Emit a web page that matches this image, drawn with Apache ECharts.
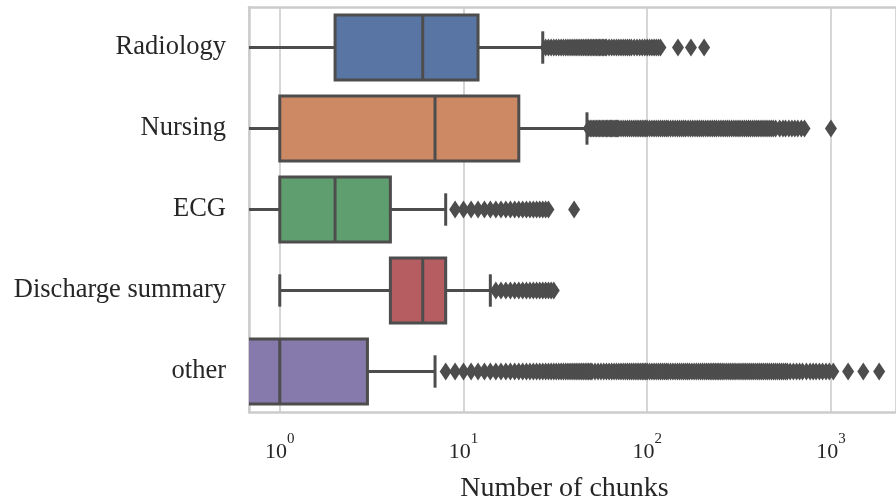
<!DOCTYPE html>
<html>
<head>
<meta charset="utf-8">
<script src="https://cdn.jsdelivr.net/npm/echarts@6/dist/echarts.min.js"></script>
<style>
html,body{margin:0;padding:0;background:#fff;}
#chart{width:896px;height:500px;}
</style>
</head>
<body>
<div id="chart"></div>
<script>
// ---- data ----
const categories = ['Radiology', 'Nursing', 'ECG', 'Discharge summary', 'other'];
const whiskerLow  = [0, 0, 0, 1, 0];
const q1          = [2, 1, 1, 4, 0];
const median      = [6, 7, 2, 6, 1];
const q3          = [12, 20, 4, 8, 3];
const whiskerHigh = [27, 47, 8, 14, 7];

const radiologyOutliers = [28,29,30,31,32,33,34,35,36,37,38,39,40,41,42,43,44,45,46,47,48,49,50,51,52,53,54,55,56,57,58,59,60,62,64,66,68,70,72,74,76,78,80,82,85,88,91,94,97,100,103,106,109,112,115,118,147,173,204];
const nursingOutliers = [48,49,50,51,52,53,54,55,56,57,58,59,60,61,62,63,64,65,66,67,68,69,70,72,74,76,78,80,82,84,86,88,90,92,94,96,98,100,103,106,109,112,115,118,121,124,127,130,134,138,142,146,150,154,158,162,167,172,177,182,187,192,197,202,208,214,220,226,232,238,245,252,259,266,273,280,288,296,304,312,320,329,338,347,356,365,375,385,395,405,416,427,438,449,461,473,485,500,526,548,566,590,613,636,660,690,718,1000];
const ecgOutliers = [9,10,11,12,13,14,15,16,17,18,19,20,21,22,23,24,25,26,27,28,29,40];
const dischargeOutliers = [15,16,17,18,19,20,21,22,23,24,25,26,27,28,29,30,31];
const otherOutliers = [8,9,10,11,12,13,14,15,16,17,18,19,20,21,22,23,24,25,26,27,28,29,30,31,32,33,34,35,36,37,38,39,40,41,42,43,44,45,46,47,48,49,50,52,54,56,58,60,62,64,66,68,70,72,74,76,78,80,82,84,86,88,90,92,94,96,98,100,103,106,109,112,115,118,121,124,127,130,134,138,142,146,150,154,158,162,166,170,175,180,185,190,195,200,205,210,215,220,225,230,235,240,245,250,256,262,269,276,283,290,297,304,312,320,328,336,344,353,362,371,380,390,400,410,420,430,441,452,463,475,487,499,512,525,538,551,565,579,600,625,650,675,700,735,770,800,830,865,900,940,980,1030,1240,1500,1830];
const outlierLists = [radiologyOutliers, nursingOutliers, ecgOutliers, dischargeOutliers, otherOutliers];

const xMin = 0.68, xMax = 2260;
const colors = ['#5975a4', '#cc8963', '#5f9e6e', '#b55d60', '#857aab'];
const edge = '#4d4d4d';
const frame = '#cccccc';
const font = "'Liberation Serif', 'DejaVu Serif', serif";
const textColor = '#262626';

const boxData = categories.map((c, i) => [i, whiskerLow[i], q1[i], median[i], q3[i], whiskerHigh[i]]);
const outlierData = [];
outlierLists.forEach((list, i) => list.forEach(v => outlierData.push([v, i])));

const chart = echarts.init(document.getElementById('chart'), null, {renderer: 'canvas'});
chart.setOption({
  animation: false,
  backgroundColor: '#ffffff',
  grid: {left: 249, right: 0, top: 7, bottom: 88, show: false, containLabel: false, outerBoundsMode: 'none'},
  xAxis: [
    {
      type: 'log', logBase: 10, min: xMin, max: xMax, position: 'bottom',
      axisLine: {show: true, lineStyle: {color: frame, width: 2.5}},
      axisTick: {show: false},
      splitLine: {show: true, lineStyle: {color: '#d6d6d6', width: 2}},
      axisLabel: {
        showMinLabel: false, showMaxLabel: false, margin: 20,
        formatter: v => '{b|10}{s|' + Math.round(Math.log10(v)) + '}',
        rich: {
          b: {fontFamily: font, fontSize: 22, color: textColor, lineHeight: 31.5, verticalAlign: 'bottom'},
          s: {fontFamily: font, fontSize: 15, color: textColor, lineHeight: 15, verticalAlign: 'top'}
        }
      },
      name: 'Number of chunks', nameLocation: 'middle', nameGap: 63,
      nameTextStyle: {fontFamily: font, fontSize: 28, color: textColor, padding: [0, 16, 0, 0]}
    },
    {
      type: 'log', logBase: 10, min: xMin, max: xMax, position: 'top',
      axisLine: {show: true, lineStyle: {color: frame, width: 2.5}},
      axisTick: {show: false}, axisLabel: {show: false}, splitLine: {show: false}
    }
  ],
  yAxis: {
    type: 'category', data: categories, inverse: true,
    axisLine: {show: true, lineStyle: {color: frame, width: 2.5}},
    axisTick: {show: false}, splitLine: {show: false},
    axisLabel: {margin: 23, fontFamily: font, fontSize: 26.5, color: textColor, padding: [6, 0, 0, 0]}
  },
  series: [
    {
      type: 'custom',
      clip: true,
      data: boxData,
      encode: {x: 3, y: 0},
      renderItem: function (params, api) {
        const cat = api.value(0);
        const lo = api.value(1), a = api.value(2), m = api.value(3), b = api.value(4), hi = api.value(5);
        const band = params.coordSys.height / categories.length;
        const h = band * 0.8;
        const cy = api.coord([1, cat])[1];
        const X = v => api.coord([v > 0 ? v : xMin / 4, cat])[0];
        const ls = {stroke: edge, lineWidth: 3, fill: null};
        const children = [
          {type: 'line', shape: {x1: X(lo), y1: cy, x2: X(a), y2: cy}, style: ls},
          {type: 'line', shape: {x1: X(b), y1: cy, x2: X(hi), y2: cy}, style: ls},
          {type: 'line', shape: {x1: X(lo), y1: cy - h / 4, x2: X(lo), y2: cy + h / 4}, style: ls},
          {type: 'line', shape: {x1: X(hi), y1: cy - h / 4, x2: X(hi), y2: cy + h / 4}, style: ls},
          {type: 'rect', shape: {x: X(a), y: cy - h / 2, width: X(b) - X(a), height: h},
            style: {fill: colors[params.dataIndex], stroke: edge, lineWidth: 3}},
          {type: 'line', shape: {x1: X(m), y1: cy - h / 2, x2: X(m), y2: cy + h / 2}, style: ls}
        ];
        return {type: 'group', children: children};
      }
    },
    {
      type: 'scatter',
      clip: true,
      data: outlierData,
      symbol: 'diamond',
      symbolSize: [12, 18],
      itemStyle: {color: edge, opacity: 1},
      z: 3
    }
  ]
});
</script>
</body>
</html>
